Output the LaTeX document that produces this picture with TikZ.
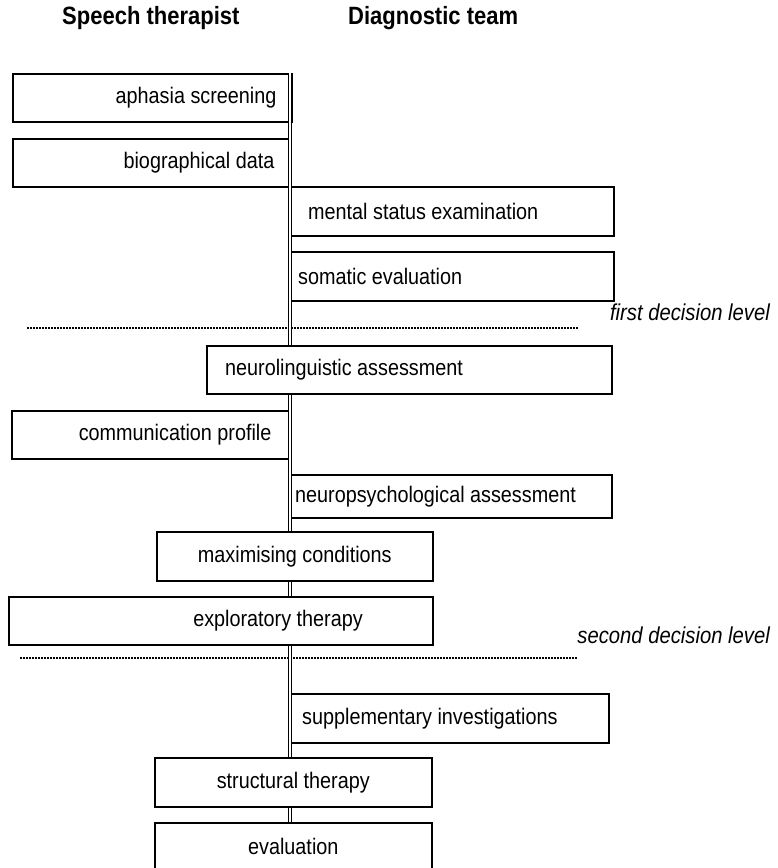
\documentclass[tikz,border=0pt]{standalone}
\usepackage{fontspec}
\setmainfont{Liberation Sans}[FakeStretch=0.88]
\pgfdeclarelayer{back}
\pgfdeclarelayer{mid}
\pgfsetlayers{back,mid,main}
\begin{document}
\begin{tikzpicture}[x=1pt,y=-1pt,
  box/.style={draw, fill=white, line width=1.6pt, anchor=north west, inner sep=0pt},
  lbl/.style={font=\fontsize{22.5}{26}\selectfont, inner sep=0pt},
  head/.style={font=\fontsize{25}{29}\selectfont\bfseries, inner sep=0pt, anchor=west},
  lvl/.style={font=\fontsize{23}{27}\selectfont\itshape, inner sep=0pt, anchor=east},
  spine/.style={double, double distance=1.5pt, line width=1.7pt},
  level/.style={line width=1.1pt, dash pattern=on 2pt off 1pt}]
\useasboundingbox (0,0) rectangle (777,868);

% column headings
\node[head] (hST) at (62,18) {Speech therapist};
\node[head] (hDT) at (348,18) {Diagnostic team};

% boxes beside the spine
\begin{pgfonlayer}{back}
\node[box, minimum width=279pt, minimum height=48pt] (aph) at (12,73) {};
\node[box, minimum width=278pt, minimum height=48pt] (bio) at (12,138) {};
\node[box, minimum width=323pt, minimum height=49pt] (mse) at (290,186) {};
\node[box, minimum width=323pt, minimum height=49pt] (som) at (290,251) {};
\node[box, minimum width=278pt, minimum height=48pt] (com) at (11,410) {};
\node[box, minimum width=323pt, minimum height=43pt] (npa) at (288,474) {};
\node[box, minimum width=320pt, minimum height=49pt] (sup) at (288,693) {};
\end{pgfonlayer}

% boxes across the spine
\node[box, minimum width=405pt, minimum height=48pt] (nla) at (206,345) {};
\node[box, minimum width=276pt, minimum height=49pt] (max) at (156,531) {};
\node[box, minimum width=424pt, minimum height=48pt] (exp) at (8,596) {};
\node[box, minimum width=277pt, minimum height=49pt] (str) at (154,757) {};
\node[box, minimum width=277pt, minimum height=48pt] (eva) at (154,822) {};

% decision levels and spine
\coordinate (l1a) at (27,328);
\coordinate (l1b) at (578,328);
\coordinate (l2a) at (20,658);
\coordinate (l2b) at (577,658);
\coordinate (spx) at (290,0);
\begin{pgfonlayer}{mid}
\draw[level] (l1a) -- (l1b);
\draw[level] (l2a) -- (l2b);
\draw[spine] (aph.north -| spx) -- (eva.north -| spx);
\end{pgfonlayer}
\node[lvl] (lv1) at (770,312) {first decision level};
\node[lvl] (lv2) at (770,635) {second decision level};

% texts
\node[lbl, anchor=east] (taph) at ([xshift=-16pt]aph.east) {aphasia screening};
\node[lbl, anchor=east] (tbio) at ([xshift=-17pt]bio.east) {biographical data};
\node[lbl, anchor=west] (tmse) at ([xshift=18pt]mse.west) {mental status examination};
\node[lbl, anchor=west] (tsom) at ([xshift=8pt]som.west) {somatic evaluation};
\node[lbl, anchor=west] (tnla) at ([xshift=19pt]nla.west) {neurolinguistic assessment};
\node[lbl, anchor=east] (tcom) at ([xshift=-19pt]com.east) {communication profile};
\node[lbl, anchor=west] (tnpa) at ([xshift=7pt]npa.west) {neuropsychological assessment};
\node[lbl] (tmax) at (max.center) {maximising conditions};
\node[lbl] (texp) at (exp.center -| 278,0) {exploratory therapy};
\node[lbl, anchor=west] (tsup) at ([xshift=14pt]sup.west) {supplementary investigations};
\node[lbl] (tstr) at (str.center) {structural therapy};
\node[lbl] (teva) at (eva.center) {evaluation};
\end{tikzpicture}
\end{document}
